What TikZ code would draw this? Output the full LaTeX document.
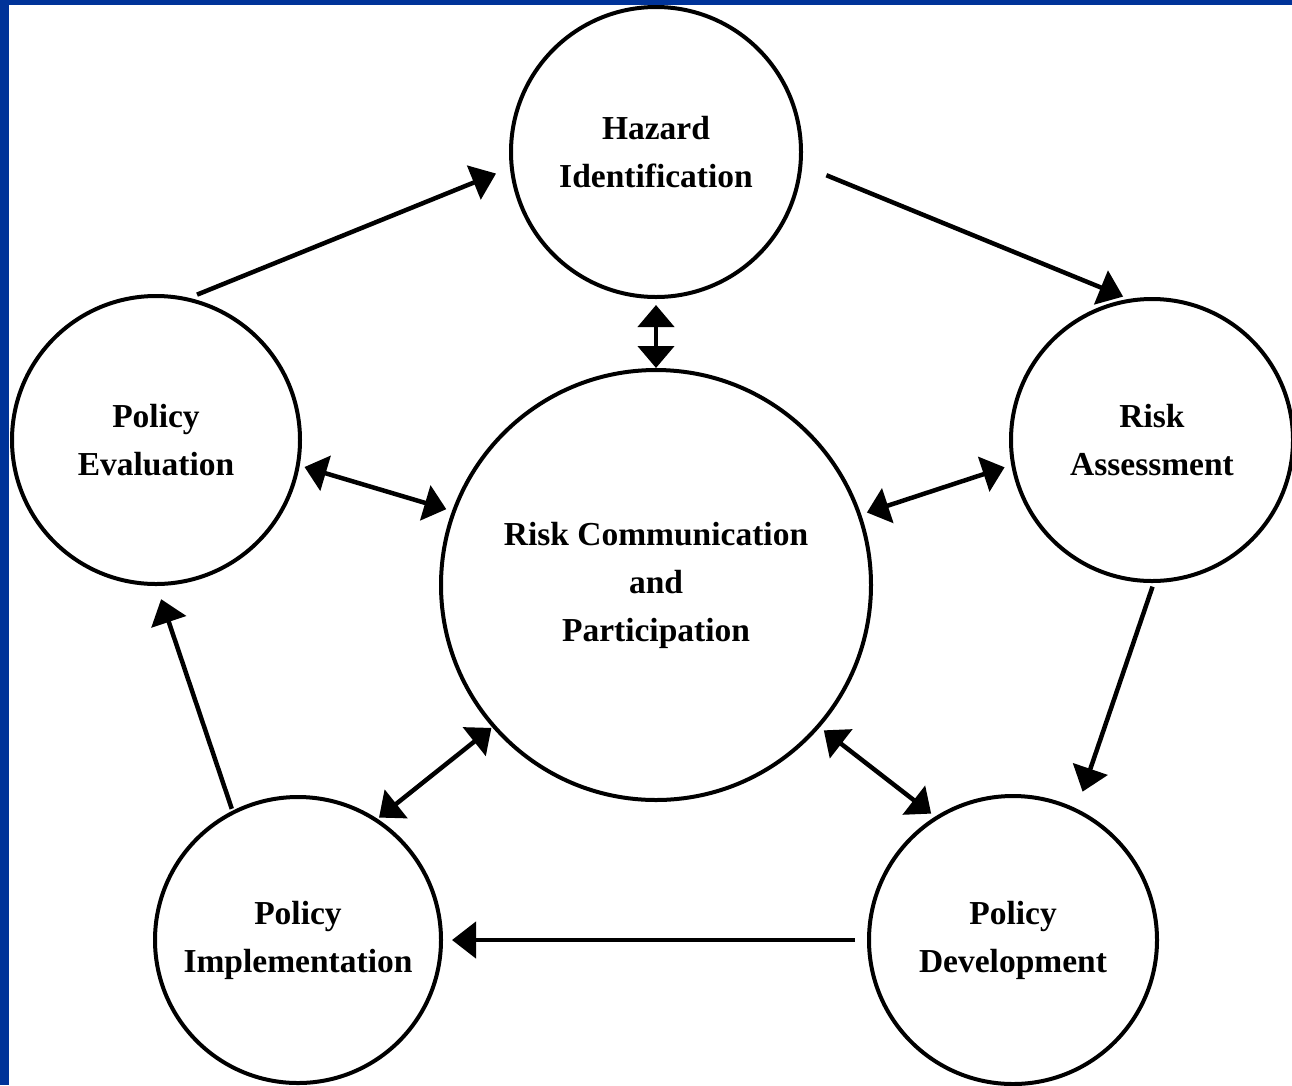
\documentclass[tikz,border=0pt]{standalone}
\usepackage{fontspec}
\setmainfont{Liberation Serif}
\usetikzlibrary{arrows.meta}
\definecolor{slideblue}{RGB}{0,51,153}
\begin{document}
\begin{tikzpicture}[x=1pt,y=-1pt,
  stage/.style={circle,draw,line width=4pt,inner sep=0pt,outer sep=0pt,minimum size=288pt,align=center,font=\fontsize{33.5}{48}\selectfont\bfseries},
  flow/.style={line width=4.5pt,-{Triangle[length=24pt,width=36pt]}},
  link/.style={line width=4.5pt,{Triangle[length=22pt,width=36pt]}-{Triangle[length=22pt,width=36pt]}}]
  \useasboundingbox (0,0) rectangle (1292,1085);
  \fill[slideblue] (0,0) rectangle (9,1085);
  \fill[slideblue] (0,0) rectangle (1292,5);
  \node[stage,minimum size=290pt] (haz) at (656,152) {Hazard\\Identification};
  \node[stage,minimum size=282pt] (risk) at (1152,440) {Risk\\Assessment};
  \node[stage] (eval) at (156,440) {Policy\\Evaluation};
  \node[stage,minimum size=430pt] (comm) at (656,585) {Risk Communication\\and\\Participation};
  \node[stage,minimum size=286pt] (impl) at (298,940) {Policy\\Implementation};
  \node[stage] (dev) at (1013,940) {Policy\\Development};
  \draw[flow,shorten <=12pt,shorten >=17pt] (eval.78) -- (haz.186);
  \draw[flow,shorten <=28pt,shorten >=10pt] (haz.-5) -- (risk.98);
  \draw[flow,shorten <=6pt,shorten >=20pt] (risk.-89) -- (dev.64);
  \draw[flow,shorten <=14pt,shorten >=11pt] (dev.180) -- (impl.0);
  \draw[flow,shorten <=4pt,shorten >=16pt] (impl.117) -- (eval.270);
  \draw[link,shorten <=8pt,shorten >=2pt] (haz.270) -- (comm.90);
  \draw[link,shorten <=7pt,shorten >=8pt] (eval.-10) -- (comm.160);
  \draw[link,shorten <=9pt,shorten >=8pt] (risk.190) -- (comm.19);
  \draw[link,shorten <=4pt,shorten >=3pt] (impl.57) -- (comm.221);
  \draw[link,shorten <=7pt,shorten >=7pt] (dev.122) -- (comm.319);
\end{tikzpicture}
\end{document}
